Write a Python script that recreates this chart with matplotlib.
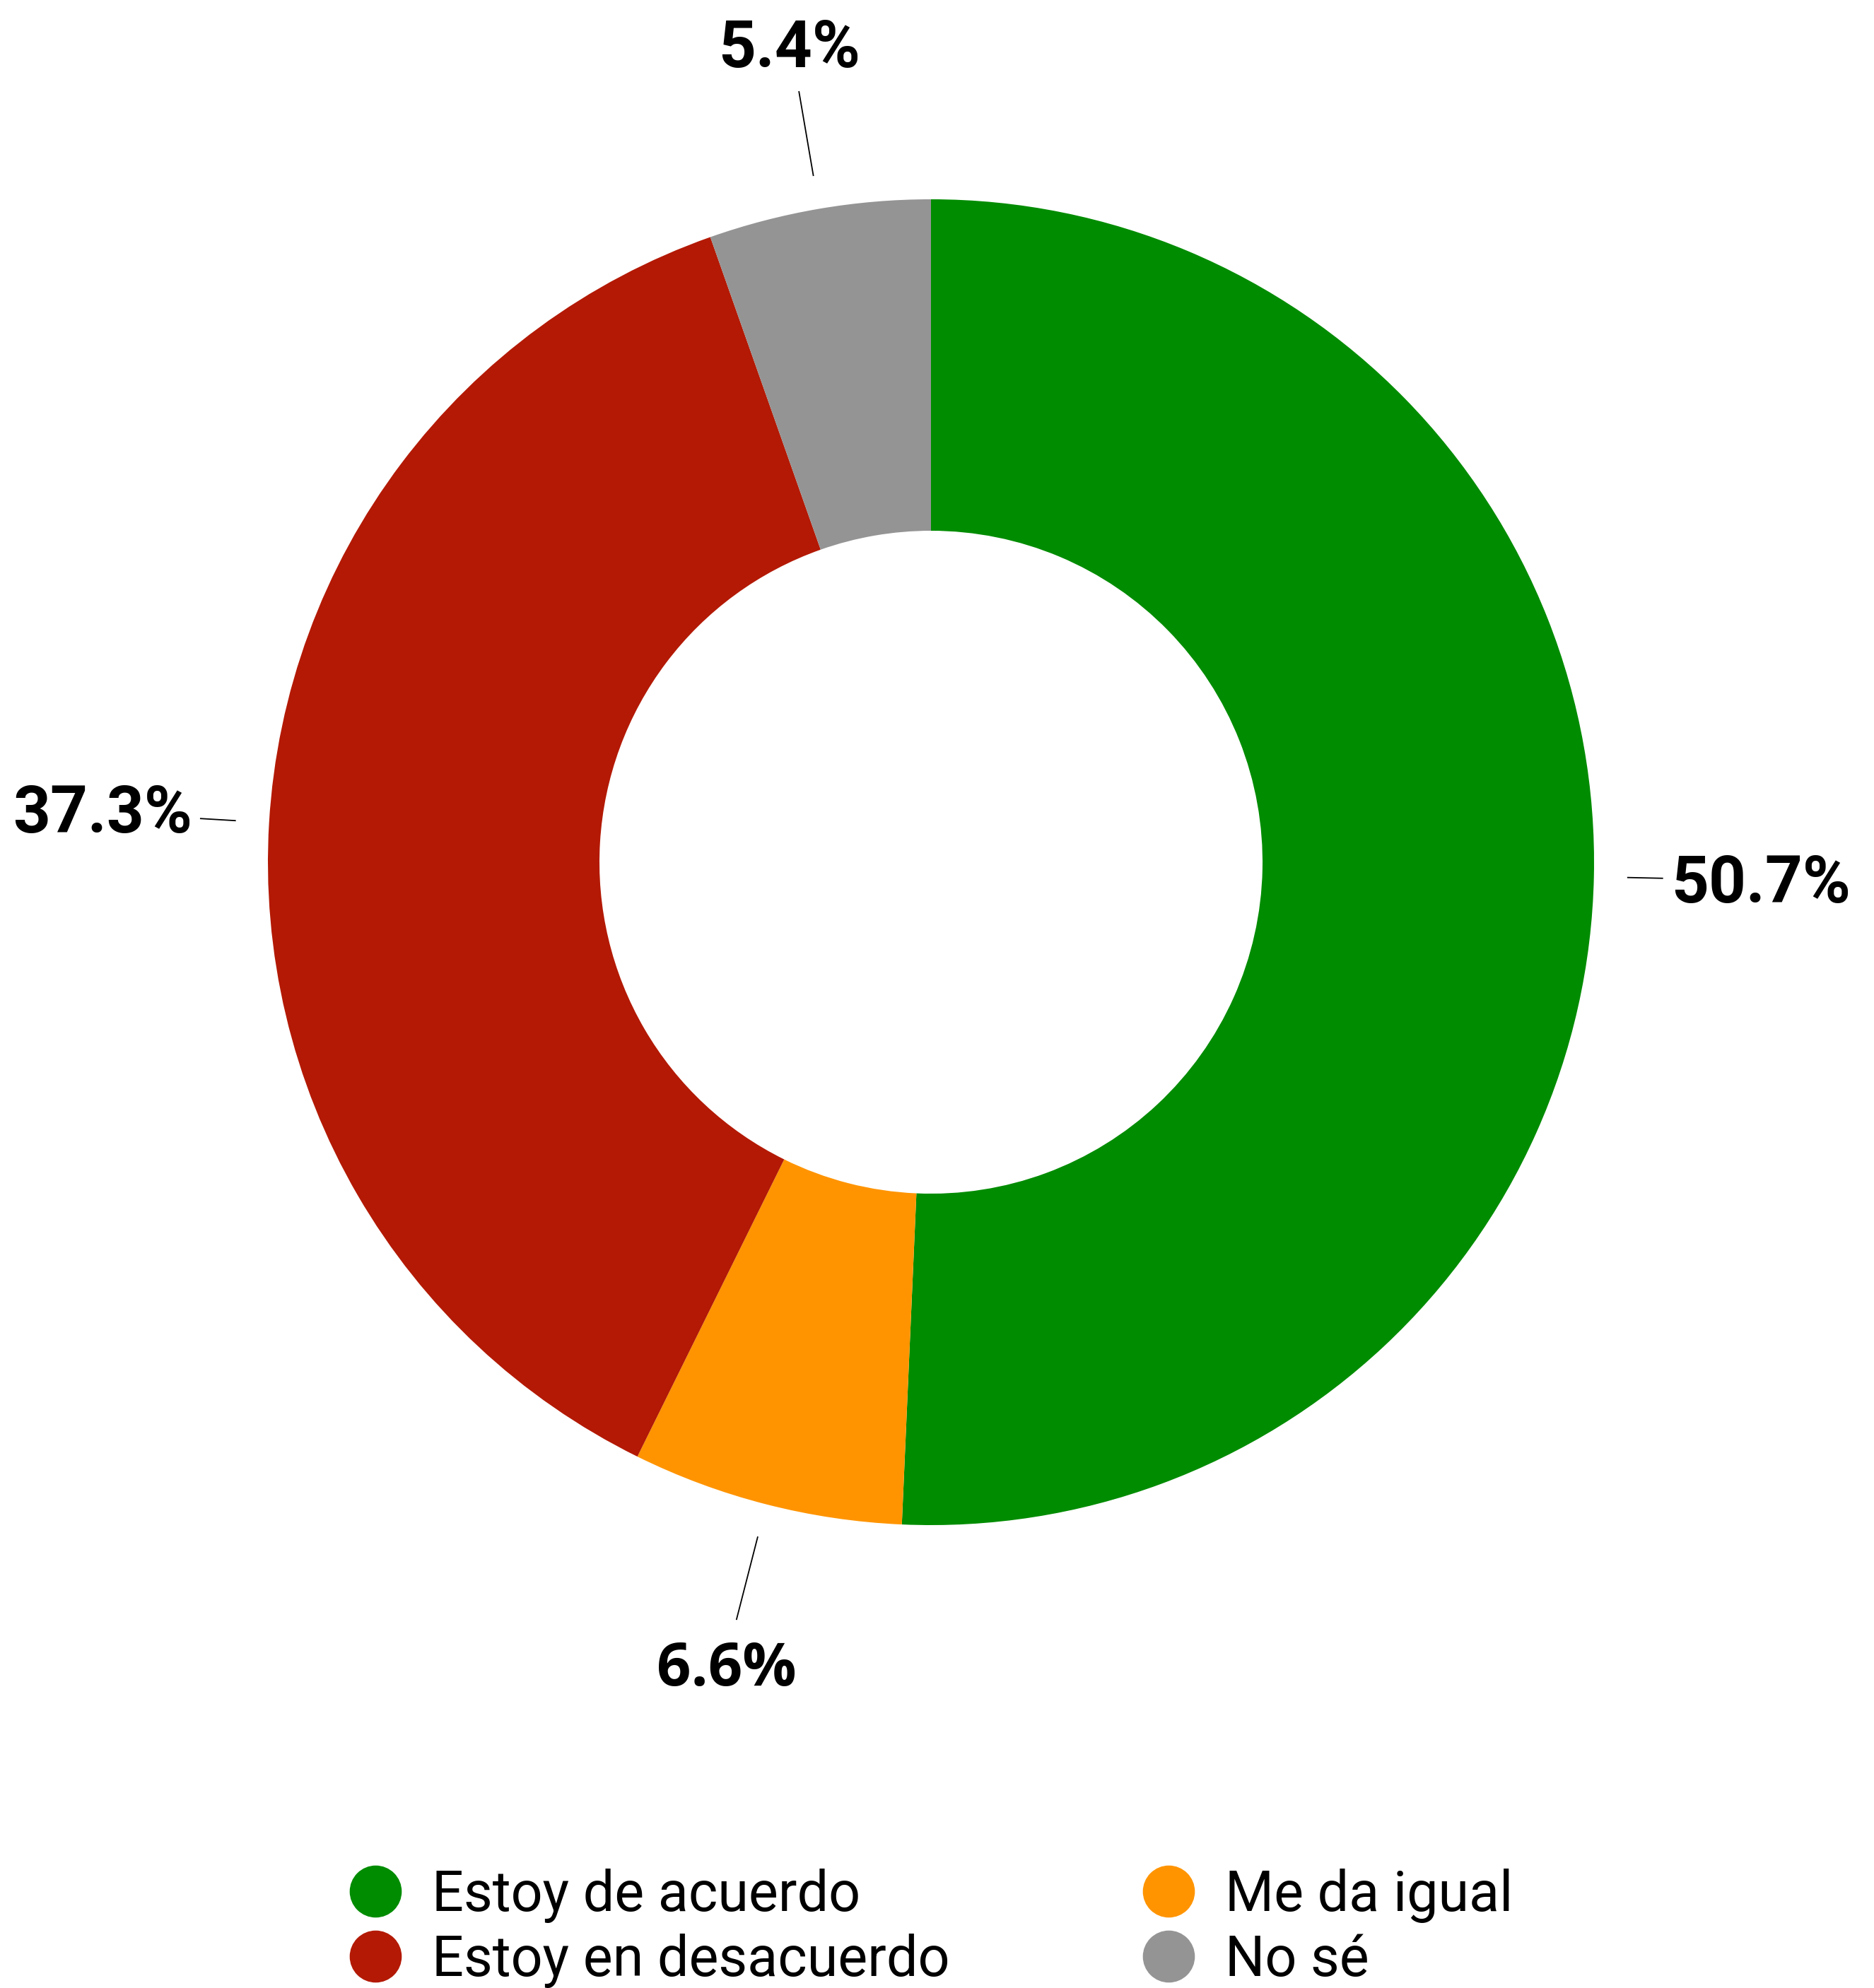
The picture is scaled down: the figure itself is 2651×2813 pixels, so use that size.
import numpy as np
import matplotlib
matplotlib.use("Agg")
import matplotlib.pyplot as plt
from matplotlib.lines import Line2D

# ---- data ----
categories = ["Estoy de acuerdo", "Me da igual", "Estoy en desacuerdo", "No sé"]
values = [50.7, 6.6, 37.3, 5.4]
value_labels = ["50.7%", "6.6%", "37.3%", "5.4%"]
colors = ["#008C00", "#FF9400", "#B31904", "#949494"]
legend_order = ["Estoy de acuerdo", "Estoy en desacuerdo", "Me da igual", "No sé"]

# ---- layout ----
W, H = 2651, 2813
fig = plt.figure(figsize=(W / 100, H / 100), dpi=100)
ax = fig.add_axes([0, 0, 1, 1])
ax.set_xlim(0, W)
ax.set_ylim(0, H)
ax.axis("off")

cx, cy = 1317, H - 1220
R = 938
ring = 469

wedges, _ = ax.pie(values, colors=colors, startangle=90, counterclock=False,
                   radius=R, center=(cx, cy),
                   wedgeprops=dict(width=ring, linewidth=0))
ax.set_xlim(0, W)
ax.set_ylim(0, H)
ax.set_aspect("equal")

# leader lines and labels
line_r1 = 986
line_r2 = [1035, 1106, 1035, 1106]
label_fonts = ["Roboto", "Open Sans", "Roboto", "Roboto"]
label_sizes = [66.5, 61, 66.5, 66.5]
for i, w in enumerate(wedges):
    th = np.deg2rad((w.theta1 + w.theta2) / 2)
    x1, y1 = cx + line_r1 * np.cos(th), cy + line_r1 * np.sin(th)
    x2, y2 = cx + line_r2[i] * np.cos(th), cy + line_r2[i] * np.sin(th)
    ax.plot([x1, x2], [y1, y2], color="black", lw=1.3)
    c, s = np.cos(th), np.sin(th)
    if abs(c) > 0.7:
        ha = "left" if c > 0 else "right"
        tx = x2 + (12 if c > 0 else -12)
        ty = y2 + (-9 if c > 0 else 6)
        va = "center"
    else:
        ha = "center"
        tx = x2 - 14
        if s > 0:
            ty = y2 + 16
            va = "bottom"
        else:
            ty = y2 - 30
            va = "top"
    ax.text(tx, ty, value_labels[i], ha=ha, va=va, fontsize=label_sizes[i],
            fontweight="bold", family=label_fonts[i], color="black")

# legend
handles = []
for name in legend_order:
    c = colors[categories.index(name)]
    handles.append(Line2D([], [], marker="o", ls="", markersize=52,
                          markerfacecolor=c, markeredgecolor=c, label=name))
fig.legend(handles=handles, ncol=2, loc="upper left",
           bbox_to_anchor=(491 / W, 1 - 2644 / H), frameon=False,
           prop=dict(family="Roboto", size=57), handlelength=1.0,
           handletextpad=0.51, labelspacing=0.19, columnspacing=3.42,
           borderpad=0, borderaxespad=0)

fig.savefig("out.png", dpi=100, facecolor="white")
